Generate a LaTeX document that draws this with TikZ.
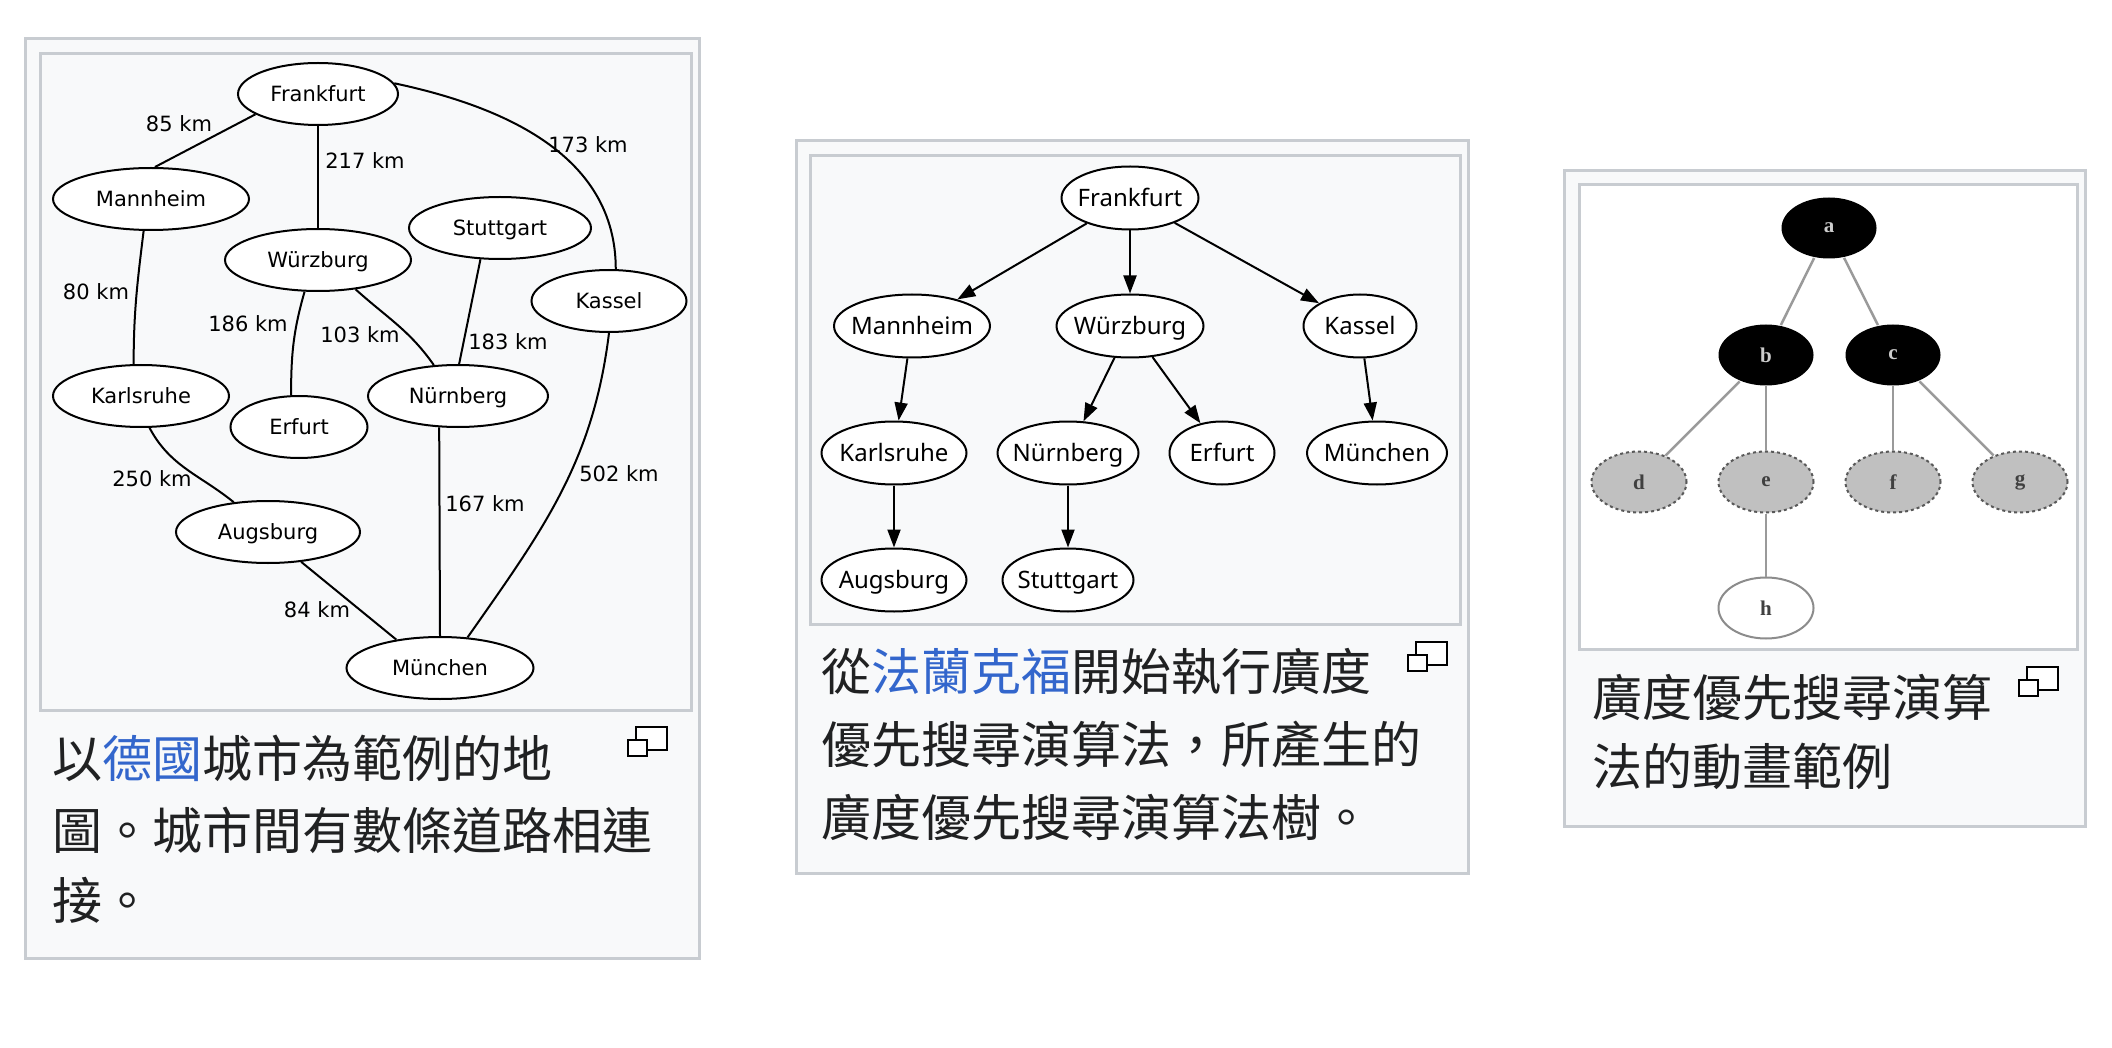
\documentclass[tikz,border=0pt]{standalone}
\usepackage{fontspec}
\newfontfamily\dvsans{DejaVu Sans}
\newfontfamily\notosans{Noto Sans}
\newfontfamily\cjk{Noto Sans CJK TC}
\newfontfamily\tmsfont{Liberation Serif}
\usetikzlibrary{arrows.meta,shapes.geometric}
\definecolor{frameline}{HTML}{C8CCD1}
\definecolor{framebg}{HTML}{F8F9FA}
\definecolor{captext}{HTML}{202122}
\definecolor{linkblue}{HTML}{3366CC}
\definecolor{bfsgray}{HTML}{C0C0C0}
\definecolor{bfsedge}{HTML}{9A9A9A}

\begin{document}
\begin{tikzpicture}[x=1pt,y=-1pt,>={Triangle[length=18pt,width=13pt]},
  frame/.style={draw=frameline,line width=3pt,fill=framebg},
  city/.style={draw,ellipse,line width=2pt,fill=white,inner xsep=-30pt,inner ysep=0pt,text height=20pt,text depth=4.6pt,minimum height=62pt,font=\dvsans\fontsize{21}{25}\selectfont},
  km/.style={inner sep=0pt,font=\dvsans\fontsize{21}{25}\selectfont},
  tcity/.style={draw,ellipse,line width=2pt,fill=white,inner xsep=-30pt,inner ysep=0pt,text height=22pt,text depth=5pt,minimum height=63pt,font=\notosans\fontsize{24}{28}\selectfont},
  vis/.style={ellipse,inner sep=0pt,minimum width=95pt,minimum height=61pt,line width=2pt,font=\tmsfont\bfseries\fontsize{21}{24}\selectfont},
  capline/.style={anchor=west,inner sep=0pt,text=captext,font=\cjk\fontsize{50}{72}\selectfont}]
\useasboundingbox (0,0) rectangle (2112,1048);
\fill[white] (0,0) rectangle (2112,1048);
% frames
\draw[frame] (25,39) rectangle (699,958);
\draw[frame] (40,54) rectangle (691,710);
\draw[frame] (796,141) rectangle (1468,873);
\draw[frame] (810,156) rectangle (1460,624);
\draw[frame] (1564,171) rectangle (2085,826);
\draw[frame,fill=white] (1579,185) rectangle (2077,649);
% map of the cities
\node[city,minimum width=160pt] (F1) at (318,94) {Frankfurt};
\node[city,minimum width=196pt] (M1) at (151,199) {Mannheim};
\node[city,minimum width=186pt] (W1) at (318,260) {Würzburg};
\node[city,minimum width=182pt] (S1) at (500,228) {Stuttgart};
\node[city,minimum width=155pt] (K1) at (609,301) {Kassel};
\node[city,minimum width=176pt] (Ka1) at (141,396) {Karlsruhe};
\node[city,minimum width=137pt] (E1) at (299,427) {Erfurt};
\node[city,minimum width=180pt] (N1) at (458,396) {Nürnberg};
\node[city,minimum width=184pt] (A1) at (268,532) {Augsburg};
\node[city,minimum width=187pt] (Mu1) at (440,668) {München};
\draw[line width=2pt] (F1.198) -- (M1.83);
\draw[line width=2pt] (F1) -- (W1);
\draw[line width=2pt] (F1.8) to[out=-12,in=90] (K1.78);
\draw[line width=2pt] (M1.257) to[out=-97,in=90] (Ka1.103);
\draw[line width=2pt] (W1.247) to[out=-106,in=90] (E1.104);
\draw[line width=2pt] (W1.-38) to[out=-42,in=125] (N1.128);
\draw[line width=2pt] (S1.238) -- (N1.88);
\draw[line width=2pt] (Ka1.-75) to[out=-62,in=141] (A1.139);
\draw[line width=2pt] (A1.-42) -- (Mu1.147);
\draw[line width=2pt] (N1.239) -- (Mu1.north);
\draw[line width=2pt] (K1.south) to[out=-97,in=55] (Mu1.48);
\node[km] (d85) at (179,124) {85 km};
\node[km] (d217) at (365,161) {217 km};
\node[km] (d173) at (588,145) {173 km};
\node[km] (d80) at (96,292) {80 km};
\node[km] (d186) at (248,324) {186 km};
\node[km] (d103) at (360,335) {103 km};
\node[km] (d183) at (508,342) {183 km};
\node[km] (d502) at (619,474) {502 km};
\node[km] (d167) at (485,504) {167 km};
\node[km] (d250) at (152,479) {250 km};
\node[km] (d84) at (317,610) {84 km};
% bfs tree
\node[tcity,minimum width=137pt] (F2) at (1130,198) {Frankfurt};
\node[tcity,minimum width=156pt] (M2) at (912,326) {Mannheim};
\node[tcity,minimum width=147pt] (W2) at (1130,326) {Würzburg};
\node[tcity,minimum width=113pt] (K2) at (1360,326) {Kassel};
\node[tcity,minimum width=145pt] (Ka2) at (894,453) {Karlsruhe};
\node[tcity,minimum width=141pt] (N2) at (1068,453) {Nürnberg};
\node[tcity,minimum width=105pt] (E2) at (1222,453) {Erfurt};
\node[tcity,minimum width=140pt] (Mu2) at (1377,453) {München};
\node[tcity,minimum width=145pt] (A2) at (894,580) {Augsburg};
\node[tcity,minimum width=131pt] (S2) at (1068,580) {Stuttgart};
\draw[->,line width=2pt] (F2) -- (M2);
\draw[->,line width=2pt] (F2) -- (W2);
\draw[->,line width=2pt] (F2) -- (K2);
\draw[->,line width=2pt] (M2) -- (Ka2);
\draw[->,line width=2pt] (W2) -- (N2);
\draw[->,line width=2pt] (W2) -- (E2);
\draw[->,line width=2pt] (K2) -- (Mu2);
\draw[->,line width=2pt] (Ka2) -- (A2);
\draw[->,line width=2pt] (N2) -- (S2);
% animation frame
\node[vis,fill=black,text=black!20] (a) at (1829,228) {a};
\node[vis,fill=black,text=black!20] (b) at (1766,355) {b};
\node[vis,fill=black,text=black!20] (c) at (1893,355) {c};
\node[vis,draw=black!65,dashed,fill=bfsgray,text=black!75] (d) at (1639,482) {d};
\node[vis,draw=black!65,dashed,fill=bfsgray,text=black!75] (e) at (1766,482) {e};
\node[vis,draw=black!65,dashed,fill=bfsgray,text=black!75] (f) at (1893,482) {f};
\node[vis,draw=black!65,dashed,fill=bfsgray,text=black!75] (g) at (2020,482) {g};
\node[vis,draw=black!45,fill=white,text=black!75] (h) at (1766,608) {h};
\draw[bfsedge,line width=2.5pt] (a) -- (b);
\draw[bfsedge,line width=2.5pt] (a) -- (c);
\draw[bfsedge,line width=2.5pt] (b) -- (d);
\draw[bfsedge,line width=2.5pt] (b) -- (e);
\draw[bfsedge,line width=2.5pt] (c) -- (f);
\draw[bfsedge,line width=2.5pt] (c) -- (g);
\draw[bfsedge,line width=2.5pt] (e) -- (h);
% captions
\node[capline] (cap1a) at (52,758) {以\textcolor{linkblue}{德國}城市為範例的地};
\node[capline] (cap1b) at (52,830) {圖。城市間有數條道路相連};
\node[capline] (cap1c) at (52,900) {接。};
\node[capline] (cap2a) at (821,672) {從\textcolor{linkblue}{法蘭克福}開始執行廣度};
\node[capline] (cap2b) at (821,745) {優先搜尋演算法，所產生的};
\node[capline] (cap2c) at (821,817) {廣度優先搜尋演算法樹。};
\node[capline] (cap3a) at (1592,697) {廣度優先搜尋演算};
\node[capline] (cap3b) at (1592,766) {法的動畫範例};
\foreach \ix/\iy in {628/727,1408/642,2019/667}{
  \draw[line width=2.5pt,fill=white] (\ix+8,\iy) rectangle (\ix+39,\iy+23);
  \draw[line width=2.5pt,fill=white] (\ix,\iy+13) rectangle (\ix+19,\iy+29);
}
\end{tikzpicture}
\end{document}
